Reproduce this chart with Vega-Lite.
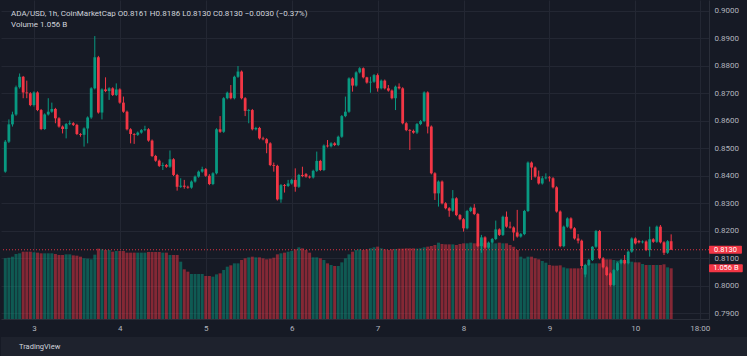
{
"$schema":"https://vega.github.io/schema/vega-lite/v6.json",
"background":"#161a25",
"padding":0,
"spacing":0,
"config":{"view":{"stroke":null},"scale":{"continuousPadding":0},"font":"Roboto","axis":{"labelFont":"Roboto"},"text":{"font":"Roboto"},"title":{"font":"Roboto","subtitleFont":"Roboto"}},
"vconcat":[
{
"width":708,"height":319,
"title":{"text":"ADA/USD, 1h, CoinMarketCap   O0.8161  H0.8186  L0.8130  C0.8130  −0.0030 (−0.37%)","subtitle":"Volume  1.056 B","anchor":"start","frame":"group","offset":-29,"fontSize":8,"fontWeight":"normal","color":"#d1d4dc","subtitleFontSize":8,"subtitleColor":"#d1d4dc","subtitlePadding":3,"dx":10},
"data":{"values":[
{"t":"2025-05-02T16:00Z","o":0.8414,"h":0.8529,"l":0.8410,"c":0.8523,"v":1.264},
{"t":"2025-05-02T17:00Z","o":0.8523,"h":0.8604,"l":0.8518,"c":0.8586,"v":1.277},
{"t":"2025-05-02T18:00Z","o":0.8586,"h":0.8632,"l":0.8578,"c":0.8622,"v":1.298},
{"t":"2025-05-02T19:00Z","o":0.8622,"h":0.8727,"l":0.8617,"c":0.8721,"v":1.354},
{"t":"2025-05-02T20:00Z","o":0.8721,"h":0.8771,"l":0.8716,"c":0.8759,"v":1.368},
{"t":"2025-05-02T21:00Z","o":0.8759,"h":0.8762,"l":0.8681,"c":0.8702,"v":1.402},
{"t":"2025-05-02T22:00Z","o":0.8702,"h":0.8745,"l":0.8681,"c":0.8699,"v":1.402},
{"t":"2025-05-02T23:00Z","o":0.8699,"h":0.8703,"l":0.8652,"c":0.8656,"v":1.402},
{"t":"2025-05-03T00:00Z","o":0.8656,"h":0.8706,"l":0.8651,"c":0.8702,"v":1.389},
{"t":"2025-05-03T01:00Z","o":0.8702,"h":0.8706,"l":0.8634,"c":0.8638,"v":1.382},
{"t":"2025-05-03T02:00Z","o":0.8638,"h":0.8642,"l":0.8565,"c":0.8569,"v":1.368},
{"t":"2025-05-03T03:00Z","o":0.8569,"h":0.8626,"l":0.8566,"c":0.8622,"v":1.368},
{"t":"2025-05-03T04:00Z","o":0.8622,"h":0.8681,"l":0.8618,"c":0.8632,"v":1.368},
{"t":"2025-05-03T05:00Z","o":0.8632,"h":0.8665,"l":0.8628,"c":0.8642,"v":1.368},
{"t":"2025-05-03T06:00Z","o":0.8642,"h":0.8646,"l":0.8590,"c":0.8608,"v":1.354},
{"t":"2025-05-03T07:00Z","o":0.8608,"h":0.8612,"l":0.8574,"c":0.8578,"v":1.333},
{"t":"2025-05-03T08:00Z","o":0.8578,"h":0.8582,"l":0.8553,"c":0.8569,"v":1.333},
{"t":"2025-05-03T09:00Z","o":0.8569,"h":0.8591,"l":0.8535,"c":0.8587,"v":1.347},
{"t":"2025-05-03T10:00Z","o":0.8587,"h":0.8600,"l":0.8583,"c":0.8590,"v":1.347},
{"t":"2025-05-03T11:00Z","o":0.8590,"h":0.8594,"l":0.8580,"c":0.8584,"v":1.326},
{"t":"2025-05-03T12:00Z","o":0.8584,"h":0.8588,"l":0.8547,"c":0.8551,"v":1.319},
{"t":"2025-05-03T13:00Z","o":0.8551,"h":0.8554,"l":0.8541,"c":0.8548,"v":1.298},
{"t":"2025-05-03T14:00Z","o":0.8548,"h":0.8575,"l":0.8505,"c":0.8571,"v":1.264},
{"t":"2025-05-03T15:00Z","o":0.8571,"h":0.8615,"l":0.8517,"c":0.8611,"v":1.257},
{"t":"2025-05-03T16:00Z","o":0.8611,"h":0.8721,"l":0.8606,"c":0.8717,"v":1.243},
{"t":"2025-05-03T17:00Z","o":0.8717,"h":0.8907,"l":0.8713,"c":0.8830,"v":1.340},
{"t":"2025-05-03T18:00Z","o":0.8830,"h":0.8835,"l":0.8625,"c":0.8629,"v":1.465},
{"t":"2025-05-03T19:00Z","o":0.8629,"h":0.8717,"l":0.8604,"c":0.8713,"v":1.451},
{"t":"2025-05-03T20:00Z","o":0.8713,"h":0.8757,"l":0.8703,"c":0.8707,"v":1.437},
{"t":"2025-05-03T21:00Z","o":0.8707,"h":0.8721,"l":0.8675,"c":0.8717,"v":1.437},
{"t":"2025-05-03T22:00Z","o":0.8717,"h":0.8721,"l":0.8689,"c":0.8693,"v":1.402},
{"t":"2025-05-03T23:00Z","o":0.8693,"h":0.8735,"l":0.8689,"c":0.8713,"v":1.416},
{"t":"2025-05-04T00:00Z","o":0.8713,"h":0.8717,"l":0.8661,"c":0.8665,"v":1.416},
{"t":"2025-05-04T01:00Z","o":0.8665,"h":0.8687,"l":0.8628,"c":0.8632,"v":1.416},
{"t":"2025-05-04T02:00Z","o":0.8632,"h":0.8636,"l":0.8564,"c":0.8568,"v":1.382},
{"t":"2025-05-04T03:00Z","o":0.8568,"h":0.8572,"l":0.8517,"c":0.8551,"v":1.382},
{"t":"2025-05-04T04:00Z","o":0.8551,"h":0.8554,"l":0.8515,"c":0.8548,"v":1.382},
{"t":"2025-05-04T05:00Z","o":0.8548,"h":0.8560,"l":0.8544,"c":0.8556,"v":1.382},
{"t":"2025-05-04T06:00Z","o":0.8556,"h":0.8569,"l":0.8552,"c":0.8565,"v":1.382},
{"t":"2025-05-04T07:00Z","o":0.8565,"h":0.8581,"l":0.8561,"c":0.8568,"v":1.382},
{"t":"2025-05-04T08:00Z","o":0.8568,"h":0.8572,"l":0.8523,"c":0.8527,"v":1.396},
{"t":"2025-05-04T09:00Z","o":0.8527,"h":0.8531,"l":0.8467,"c":0.8471,"v":1.396},
{"t":"2025-05-04T10:00Z","o":0.8471,"h":0.8475,"l":0.8450,"c":0.8454,"v":1.396},
{"t":"2025-05-04T11:00Z","o":0.8454,"h":0.8458,"l":0.8431,"c":0.8435,"v":1.396},
{"t":"2025-05-04T12:00Z","o":0.8435,"h":0.8447,"l":0.8420,"c":0.8438,"v":1.382},
{"t":"2025-05-04T13:00Z","o":0.8438,"h":0.8442,"l":0.8428,"c":0.8432,"v":1.382},
{"t":"2025-05-04T14:00Z","o":0.8432,"h":0.8491,"l":0.8428,"c":0.8459,"v":1.333},
{"t":"2025-05-04T15:00Z","o":0.8459,"h":0.8463,"l":0.8398,"c":0.8402,"v":1.333},
{"t":"2025-05-04T16:00Z","o":0.8402,"h":0.8406,"l":0.8345,"c":0.8359,"v":1.333},
{"t":"2025-05-04T17:00Z","o":0.8359,"h":0.8390,"l":0.8355,"c":0.8363,"v":1.194},
{"t":"2025-05-04T18:00Z","o":0.8363,"h":0.8384,"l":0.8352,"c":0.8359,"v":1.035},
{"t":"2025-05-04T19:00Z","o":0.8359,"h":0.8363,"l":0.8352,"c":0.8356,"v":0.986},
{"t":"2025-05-04T20:00Z","o":0.8356,"h":0.8382,"l":0.8352,"c":0.8378,"v":0.937},
{"t":"2025-05-04T21:00Z","o":0.8378,"h":0.8400,"l":0.8374,"c":0.8396,"v":0.937},
{"t":"2025-05-04T22:00Z","o":0.8396,"h":0.8418,"l":0.8392,"c":0.8414,"v":0.937},
{"t":"2025-05-04T23:00Z","o":0.8414,"h":0.8432,"l":0.8410,"c":0.8423,"v":0.937},
{"t":"2025-05-05T00:00Z","o":0.8423,"h":0.8427,"l":0.8395,"c":0.8399,"v":0.896},
{"t":"2025-05-05T01:00Z","o":0.8399,"h":0.8405,"l":0.8365,"c":0.8369,"v":0.896},
{"t":"2025-05-05T02:00Z","o":0.8369,"h":0.8412,"l":0.8365,"c":0.8408,"v":0.882},
{"t":"2025-05-05T03:00Z","o":0.8408,"h":0.8572,"l":0.8404,"c":0.8568,"v":0.930},
{"t":"2025-05-05T04:00Z","o":0.8568,"h":0.8616,"l":0.8555,"c":0.8559,"v":0.951},
{"t":"2025-05-05T05:00Z","o":0.8559,"h":0.8685,"l":0.8555,"c":0.8681,"v":1.021},
{"t":"2025-05-05T06:00Z","o":0.8681,"h":0.8705,"l":0.8677,"c":0.8701,"v":1.090},
{"t":"2025-05-05T07:00Z","o":0.8701,"h":0.8729,"l":0.8677,"c":0.8681,"v":1.118},
{"t":"2025-05-05T08:00Z","o":0.8681,"h":0.8763,"l":0.8677,"c":0.8759,"v":1.159},
{"t":"2025-05-05T09:00Z","o":0.8759,"h":0.8798,"l":0.8755,"c":0.8778,"v":1.159},
{"t":"2025-05-05T10:00Z","o":0.8778,"h":0.8782,"l":0.8677,"c":0.8681,"v":1.229},
{"t":"2025-05-05T11:00Z","o":0.8681,"h":0.8685,"l":0.8616,"c":0.8635,"v":1.264},
{"t":"2025-05-05T12:00Z","o":0.8635,"h":0.8642,"l":0.8590,"c":0.8638,"v":1.284},
{"t":"2025-05-05T13:00Z","o":0.8638,"h":0.8642,"l":0.8564,"c":0.8568,"v":1.298},
{"t":"2025-05-05T14:00Z","o":0.8568,"h":0.8577,"l":0.8564,"c":0.8573,"v":1.284},
{"t":"2025-05-05T15:00Z","o":0.8573,"h":0.8577,"l":0.8531,"c":0.8535,"v":1.284},
{"t":"2025-05-05T16:00Z","o":0.8535,"h":0.8541,"l":0.8528,"c":0.8532,"v":1.264},
{"t":"2025-05-05T17:00Z","o":0.8532,"h":0.8536,"l":0.8481,"c":0.8517,"v":1.243},
{"t":"2025-05-05T18:00Z","o":0.8517,"h":0.8521,"l":0.8434,"c":0.8438,"v":1.257},
{"t":"2025-05-05T19:00Z","o":0.8438,"h":0.8447,"l":0.8414,"c":0.8435,"v":1.277},
{"t":"2025-05-05T20:00Z","o":0.8435,"h":0.8439,"l":0.8309,"c":0.8313,"v":1.347},
{"t":"2025-05-05T21:00Z","o":0.8313,"h":0.8369,"l":0.8301,"c":0.8365,"v":1.368},
{"t":"2025-05-05T22:00Z","o":0.8365,"h":0.8369,"l":0.8338,"c":0.8362,"v":1.382},
{"t":"2025-05-05T23:00Z","o":0.8362,"h":0.8384,"l":0.8358,"c":0.8371,"v":1.402},
{"t":"2025-05-06T00:00Z","o":0.8371,"h":0.8388,"l":0.8367,"c":0.8384,"v":1.416},
{"t":"2025-05-06T01:00Z","o":0.8384,"h":0.8426,"l":0.8341,"c":0.8359,"v":1.451},
{"t":"2025-05-06T02:00Z","o":0.8359,"h":0.8406,"l":0.8355,"c":0.8402,"v":1.493},
{"t":"2025-05-06T03:00Z","o":0.8402,"h":0.8432,"l":0.8394,"c":0.8398,"v":1.472},
{"t":"2025-05-06T04:00Z","o":0.8405,"h":0.8409,"l":0.8392,"c":0.8396,"v":1.437},
{"t":"2025-05-06T05:00Z","o":0.8396,"h":0.8400,"l":0.8389,"c":0.8393,"v":1.382},
{"t":"2025-05-06T06:00Z","o":0.8393,"h":0.8421,"l":0.8389,"c":0.8417,"v":1.284},
{"t":"2025-05-06T07:00Z","o":0.8417,"h":0.8487,"l":0.8413,"c":0.8453,"v":1.284},
{"t":"2025-05-06T08:00Z","o":0.8453,"h":0.8457,"l":0.8416,"c":0.8420,"v":1.264},
{"t":"2025-05-06T09:00Z","o":0.8420,"h":0.8513,"l":0.8416,"c":0.8509,"v":1.229},
{"t":"2025-05-06T10:00Z","o":0.8509,"h":0.8529,"l":0.8502,"c":0.8506,"v":1.159},
{"t":"2025-05-06T11:00Z","o":0.8506,"h":0.8521,"l":0.8502,"c":0.8517,"v":1.125},
{"t":"2025-05-06T12:00Z","o":0.8517,"h":0.8521,"l":0.8507,"c":0.8511,"v":1.104},
{"t":"2025-05-06T13:00Z","o":0.8511,"h":0.8545,"l":0.8507,"c":0.8541,"v":1.104},
{"t":"2025-05-06T14:00Z","o":0.8541,"h":0.8620,"l":0.8537,"c":0.8616,"v":1.180},
{"t":"2025-05-06T15:00Z","o":0.8616,"h":0.8687,"l":0.8612,"c":0.8632,"v":1.264},
{"t":"2025-05-06T16:00Z","o":0.8632,"h":0.8757,"l":0.8628,"c":0.8753,"v":1.347},
{"t":"2025-05-06T17:00Z","o":0.8753,"h":0.8757,"l":0.8705,"c":0.8727,"v":1.402},
{"t":"2025-05-06T18:00Z","o":0.8727,"h":0.8779,"l":0.8723,"c":0.8775,"v":1.437},
{"t":"2025-05-06T19:00Z","o":0.8775,"h":0.8794,"l":0.8771,"c":0.8790,"v":1.451},
{"t":"2025-05-06T20:00Z","o":0.8790,"h":0.8793,"l":0.8753,"c":0.8757,"v":1.437},
{"t":"2025-05-06T21:00Z","o":0.8757,"h":0.8759,"l":0.8734,"c":0.8738,"v":1.451},
{"t":"2025-05-06T22:00Z","o":0.8738,"h":0.8759,"l":0.8701,"c":0.8741,"v":1.472},
{"t":"2025-05-06T23:00Z","o":0.8741,"h":0.8769,"l":0.8737,"c":0.8765,"v":1.493},
{"t":"2025-05-07T00:00Z","o":0.8765,"h":0.8771,"l":0.8705,"c":0.8717,"v":1.507},
{"t":"2025-05-07T01:00Z","o":0.8717,"h":0.8749,"l":0.8713,"c":0.8745,"v":1.472},
{"t":"2025-05-07T02:00Z","o":0.8745,"h":0.8749,"l":0.8713,"c":0.8717,"v":1.451},
{"t":"2025-05-07T03:00Z","o":0.8717,"h":0.8729,"l":0.8705,"c":0.8709,"v":1.437},
{"t":"2025-05-07T04:00Z","o":0.8709,"h":0.8713,"l":0.8677,"c":0.8681,"v":1.451},
{"t":"2025-05-07T05:00Z","o":0.8681,"h":0.8727,"l":0.8638,"c":0.8723,"v":1.458},
{"t":"2025-05-07T06:00Z","o":0.8723,"h":0.8735,"l":0.8713,"c":0.8717,"v":1.465},
{"t":"2025-05-07T07:00Z","o":0.8717,"h":0.8721,"l":0.8586,"c":0.8590,"v":1.465},
{"t":"2025-05-07T08:00Z","o":0.8590,"h":0.8594,"l":0.8561,"c":0.8565,"v":1.472},
{"t":"2025-05-07T09:00Z","o":0.8565,"h":0.8569,"l":0.8493,"c":0.8562,"v":1.472},
{"t":"2025-05-07T10:00Z","o":0.8562,"h":0.8567,"l":0.8552,"c":0.8556,"v":1.472},
{"t":"2025-05-07T11:00Z","o":0.8556,"h":0.8591,"l":0.8551,"c":0.8587,"v":1.465},
{"t":"2025-05-07T12:00Z","o":0.8587,"h":0.8602,"l":0.8583,"c":0.8598,"v":1.472},
{"t":"2025-05-07T13:00Z","o":0.8598,"h":0.8706,"l":0.8594,"c":0.8702,"v":1.493},
{"t":"2025-05-07T14:00Z","o":0.8702,"h":0.8706,"l":0.8553,"c":0.8578,"v":1.507},
{"t":"2025-05-07T15:00Z","o":0.8578,"h":0.8582,"l":0.8404,"c":0.8408,"v":1.520},
{"t":"2025-05-07T16:00Z","o":0.8408,"h":0.8412,"l":0.8311,"c":0.8335,"v":1.541},
{"t":"2025-05-07T17:00Z","o":0.8335,"h":0.8382,"l":0.8287,"c":0.8378,"v":1.590},
{"t":"2025-05-07T18:00Z","o":0.8378,"h":0.8382,"l":0.8295,"c":0.8299,"v":1.562},
{"t":"2025-05-07T19:00Z","o":0.8299,"h":0.8303,"l":0.8277,"c":0.8281,"v":1.555},
{"t":"2025-05-07T20:00Z","o":0.8281,"h":0.8285,"l":0.8250,"c":0.8272,"v":1.555},
{"t":"2025-05-07T21:00Z","o":0.8272,"h":0.8347,"l":0.8268,"c":0.8317,"v":1.555},
{"t":"2025-05-07T22:00Z","o":0.8317,"h":0.8321,"l":0.8252,"c":0.8256,"v":1.541},
{"t":"2025-05-07T23:00Z","o":0.8256,"h":0.8260,"l":0.8237,"c":0.8241,"v":1.562},
{"t":"2025-05-08T00:00Z","o":0.8241,"h":0.8245,"l":0.8196,"c":0.8208,"v":1.576},
{"t":"2025-05-08T01:00Z","o":0.8208,"h":0.8275,"l":0.8204,"c":0.8271,"v":1.576},
{"t":"2025-05-08T02:00Z","o":0.8271,"h":0.8287,"l":0.8267,"c":0.8283,"v":1.590},
{"t":"2025-05-08T03:00Z","o":0.8283,"h":0.8296,"l":0.8256,"c":0.8260,"v":1.576},
{"t":"2025-05-08T04:00Z","o":0.8260,"h":0.8264,"l":0.8139,"c":0.8143,"v":1.576},
{"t":"2025-05-08T05:00Z","o":0.8143,"h":0.8184,"l":0.8119,"c":0.8175,"v":1.576},
{"t":"2025-05-08T06:00Z","o":0.8175,"h":0.8179,"l":0.8134,"c":0.8138,"v":1.590},
{"t":"2025-05-08T07:00Z","o":0.8138,"h":0.8160,"l":0.8134,"c":0.8156,"v":1.576},
{"t":"2025-05-08T08:00Z","o":0.8156,"h":0.8173,"l":0.8152,"c":0.8169,"v":1.576},
{"t":"2025-05-08T09:00Z","o":0.8169,"h":0.8236,"l":0.8165,"c":0.8204,"v":1.576},
{"t":"2025-05-08T10:00Z","o":0.8204,"h":0.8208,"l":0.8180,"c":0.8184,"v":1.590},
{"t":"2025-05-08T11:00Z","o":0.8184,"h":0.8254,"l":0.8180,"c":0.8250,"v":1.576},
{"t":"2025-05-08T12:00Z","o":0.8250,"h":0.8269,"l":0.8210,"c":0.8214,"v":1.576},
{"t":"2025-05-08T13:00Z","o":0.8214,"h":0.8232,"l":0.8207,"c":0.8211,"v":1.541},
{"t":"2025-05-08T14:00Z","o":0.8211,"h":0.8215,"l":0.8163,"c":0.8193,"v":1.507},
{"t":"2025-05-08T15:00Z","o":0.8193,"h":0.8275,"l":0.8174,"c":0.8178,"v":1.437},
{"t":"2025-05-08T16:00Z","o":0.8178,"h":0.8191,"l":0.8174,"c":0.8187,"v":1.298},
{"t":"2025-05-08T17:00Z","o":0.8187,"h":0.8275,"l":0.8183,"c":0.8271,"v":1.257},
{"t":"2025-05-08T18:00Z","o":0.8271,"h":0.8451,"l":0.8267,"c":0.8447,"v":1.298},
{"t":"2025-05-08T19:00Z","o":0.8447,"h":0.8451,"l":0.8384,"c":0.8429,"v":1.298},
{"t":"2025-05-08T20:00Z","o":0.8429,"h":0.8433,"l":0.8392,"c":0.8396,"v":1.264},
{"t":"2025-05-08T21:00Z","o":0.8396,"h":0.8418,"l":0.8367,"c":0.8371,"v":1.243},
{"t":"2025-05-08T22:00Z","o":0.8371,"h":0.8398,"l":0.8367,"c":0.8390,"v":1.208},
{"t":"2025-05-08T23:00Z","o":0.8390,"h":0.8408,"l":0.8386,"c":0.8393,"v":1.173},
{"t":"2025-05-09T00:00Z","o":0.8393,"h":0.8398,"l":0.8378,"c":0.8390,"v":1.125},
{"t":"2025-05-09T01:00Z","o":0.8390,"h":0.8394,"l":0.8353,"c":0.8357,"v":1.111},
{"t":"2025-05-09T02:00Z","o":0.8357,"h":0.8361,"l":0.8265,"c":0.8269,"v":1.111},
{"t":"2025-05-09T03:00Z","o":0.8269,"h":0.8273,"l":0.8139,"c":0.8143,"v":1.118},
{"t":"2025-05-09T04:00Z","o":0.8143,"h":0.8218,"l":0.8139,"c":0.8214,"v":1.076},
{"t":"2025-05-09T05:00Z","o":0.8214,"h":0.8248,"l":0.8210,"c":0.8244,"v":1.055},
{"t":"2025-05-09T06:00Z","o":0.8244,"h":0.8248,"l":0.8204,"c":0.8208,"v":1.055},
{"t":"2025-05-09T07:00Z","o":0.8208,"h":0.8212,"l":0.8167,"c":0.8171,"v":1.055},
{"t":"2025-05-09T08:00Z","o":0.8171,"h":0.8187,"l":0.8153,"c":0.8163,"v":1.055},
{"t":"2025-05-09T09:00Z","o":0.8163,"h":0.8167,"l":0.8060,"c":0.8071,"v":1.055},
{"t":"2025-05-09T10:00Z","o":0.8040,"h":0.8079,"l":0.8030,"c":0.8075,"v":1.125},
{"t":"2025-05-09T11:00Z","o":0.8075,"h":0.8097,"l":0.8071,"c":0.8093,"v":1.159},
{"t":"2025-05-09T12:00Z","o":0.8093,"h":0.8143,"l":0.8089,"c":0.8141,"v":1.159},
{"t":"2025-05-09T13:00Z","o":0.8141,"h":0.8202,"l":0.8137,"c":0.8198,"v":1.159},
{"t":"2025-05-09T14:00Z","o":0.8198,"h":0.8202,"l":0.8095,"c":0.8099,"v":1.159},
{"t":"2025-05-09T15:00Z","o":0.8099,"h":0.8103,"l":0.8062,"c":0.8066,"v":1.229},
{"t":"2025-05-09T16:00Z","o":0.8066,"h":0.8070,"l":0.8034,"c":0.8038,"v":1.243},
{"t":"2025-05-09T17:00Z","o":0.8044,"h":0.8048,"l":0.7996,"c":0.8002,"v":1.243},
{"t":"2025-05-09T18:00Z","o":0.8002,"h":0.8060,"l":0.7998,"c":0.8056,"v":1.229},
{"t":"2025-05-09T19:00Z","o":0.8056,"h":0.8085,"l":0.8052,"c":0.8081,"v":1.215},
{"t":"2025-05-09T20:00Z","o":0.8081,"h":0.8097,"l":0.8077,"c":0.8093,"v":1.208},
{"t":"2025-05-09T21:00Z","o":0.8093,"h":0.8111,"l":0.8077,"c":0.8081,"v":1.173},
{"t":"2025-05-09T22:00Z","o":0.8081,"h":0.8127,"l":0.8077,"c":0.8123,"v":1.194},
{"t":"2025-05-09T23:00Z","o":0.8123,"h":0.8175,"l":0.8119,"c":0.8171,"v":1.194},
{"t":"2025-05-10T00:00Z","o":0.8171,"h":0.8175,"l":0.8149,"c":0.8153,"v":1.180},
{"t":"2025-05-10T01:00Z","o":0.8162,"h":0.8166,"l":0.8153,"c":0.8157,"v":1.180},
{"t":"2025-05-10T02:00Z","o":0.8157,"h":0.8164,"l":0.8153,"c":0.8160,"v":1.146},
{"t":"2025-05-10T03:00Z","o":0.8160,"h":0.8164,"l":0.8125,"c":0.8129,"v":1.125},
{"t":"2025-05-10T04:00Z","o":0.8129,"h":0.8214,"l":0.8105,"c":0.8168,"v":1.125},
{"t":"2025-05-10T05:00Z","o":0.8168,"h":0.8172,"l":0.8155,"c":0.8159,"v":1.125},
{"t":"2025-05-10T06:00Z","o":0.8159,"h":0.8218,"l":0.8155,"c":0.8214,"v":1.125},
{"t":"2025-05-10T07:00Z","o":0.8214,"h":0.8220,"l":0.8153,"c":0.8157,"v":1.125},
{"t":"2025-05-10T08:00Z","o":0.8157,"h":0.8161,"l":0.8111,"c":0.8119,"v":1.139},
{"t":"2025-05-10T09:00Z","o":0.8119,"h":0.8165,"l":0.8115,"c":0.8161,"v":1.076},
{"t":"2025-05-10T10:00Z","o":0.8161,"h":0.8186,"l":0.8130,"c":0.8130,"v":1.056}
]},
"layer":[
{"layer":[
{"mark":{"type":"bar","size":3},
"encoding":{
"x":{"field":"t","type":"temporal","scale":{"type":"utc","domain":[{"year":2025,"month":5,"date":2,"hours":14,"minutes":48,"utc":true},{"year":2025,"month":5,"date":10,"hours":20,"minutes":34,"utc":true}]},
"axis":{"values":[{"year":2025,"month":5,"date":3,"utc":true},{"year":2025,"month":5,"date":4,"utc":true},{"year":2025,"month":5,"date":5,"utc":true},{"year":2025,"month":5,"date":6,"utc":true},{"year":2025,"month":5,"date":7,"utc":true},{"year":2025,"month":5,"date":8,"utc":true},{"year":2025,"month":5,"date":9,"utc":true},{"year":2025,"month":5,"date":10,"utc":true},{"year":2025,"month":5,"date":10,"hours":18,"utc":true}],
"labelExpr":"utchours(datum.value) == 0 ? utcFormat(datum.value, '%-d') : utcFormat(datum.value, '%H:%M')",
"title":null,"ticks":false,"labelPadding":5,"labelFontSize":8,"labelColor":"#b2b5be","grid":true,"gridColor":"#232733","domain":true,"domainColor":"#2a2e39","minExtent":18,"maxExtent":18,"labelFlush":false,"labelOverlap":false}},
"y":{"field":"v","type":"quantitative","scale":{"domain":[0,6.644]},"axis":null},
"color":{"condition":{"test":"datum.c >= datum.o","value":"rgba(8,153,129,0.5)"},"value":"rgba(242,54,69,0.5)"}}},
{"data":{"values":[{"vol":1.056,"tag":"1.056 B"}]},
"mark":{"type":"bar","orient":"horizontal","size":8,"color":"#f23645","cornerRadius":1},
"encoding":{
"x":{"datum":{"year":2025,"month":5,"date":10,"hours":20,"minutes":34,"utc":true},"type":"temporal","scale":{"type":"utc","domain":[{"year":2025,"month":5,"date":2,"hours":14,"minutes":48,"utc":true},{"year":2025,"month":5,"date":10,"hours":20,"minutes":34,"utc":true}]}},
"x2":{"datum":{"year":2025,"month":5,"date":11,"hours":6,"minutes":0,"utc":true}},
"y":{"field":"vol","type":"quantitative","scale":{"domain":[0,6.644]},"axis":null}}},
{"data":{"values":[{"vol":1.056,"tag":"1.056 B"}]},
"mark":{"type":"text","color":"#ffffff","fontSize":7.5,"align":"center","baseline":"middle"},
"encoding":{
"x":{"datum":{"year":2025,"month":5,"date":11,"hours":1,"minutes":17,"utc":true},"type":"temporal","scale":{"type":"utc","domain":[{"year":2025,"month":5,"date":2,"hours":14,"minutes":48,"utc":true},{"year":2025,"month":5,"date":10,"hours":20,"minutes":34,"utc":true}]}},
"y":{"field":"vol","type":"quantitative","scale":{"domain":[0,6.644]},"axis":null},
"text":{"field":"tag"}}}
]},
{"layer":[
{"mark":{"type":"rule","strokeWidth":1},
"encoding":{
"x":{"field":"t","type":"temporal","scale":{"type":"utc","domain":[{"year":2025,"month":5,"date":2,"hours":14,"minutes":48,"utc":true},{"year":2025,"month":5,"date":10,"hours":20,"minutes":34,"utc":true}]}},
"y":{"field":"l","type":"quantitative","scale":{"domain":[0.78782,0.90382],"nice":false,"zero":false},
"axis":{"orient":"right","values":[0.79,0.8,0.81,0.82,0.83,0.84,0.85,0.86,0.87,0.88,0.89,0.9],"format":".4f","title":null,"ticks":false,"labelPadding":5,"labelFontSize":8,"labelColor":"#b2b5be","grid":true,"gridColor":"#232733","domain":true,"domainColor":"#2a2e39","labelFlush":false,"labelOverlap":false}},
"y2":{"field":"h"},
"color":{"condition":{"test":"datum.c >= datum.o","value":"#089981"},"value":"#f23645"}}},
{"mark":{"type":"bar","size":2.8},
"encoding":{
"x":{"field":"t","type":"temporal","scale":{"type":"utc","domain":[{"year":2025,"month":5,"date":2,"hours":14,"minutes":48,"utc":true},{"year":2025,"month":5,"date":10,"hours":20,"minutes":34,"utc":true}]}},
"y":{"field":"o","type":"quantitative","scale":{"domain":[0.78782,0.90382],"nice":false,"zero":false},
"axis":{"orient":"right","values":[0.79,0.8,0.81,0.82,0.83,0.84,0.85,0.86,0.87,0.88,0.89,0.9],"format":".4f","title":null,"ticks":false,"labelPadding":5,"labelFontSize":8,"labelColor":"#b2b5be","grid":true,"gridColor":"#232733","domain":true,"domainColor":"#2a2e39","labelFlush":false,"labelOverlap":false}},
"y2":{"field":"c"},
"color":{"condition":{"test":"datum.c >= datum.o","value":"#089981"},"value":"#f23645"}}},
{"data":{"values":[{"price":0.813,"tag":"0.8130"}]},
"mark":{"type":"rule","color":"#f23645","strokeDash":[1,2],"strokeWidth":1,"opacity":0.9},
"encoding":{"y":{"field":"price","type":"quantitative","scale":{"domain":[0.78782,0.90382],"nice":false,"zero":false},
"axis":{"orient":"right","values":[0.79,0.8,0.81,0.82,0.83,0.84,0.85,0.86,0.87,0.88,0.89,0.9],"format":".4f","title":null,"ticks":false,"labelPadding":5,"labelFontSize":8,"labelColor":"#b2b5be","grid":true,"gridColor":"#232733","domain":true,"domainColor":"#2a2e39","labelFlush":false,"labelOverlap":false}}}},
{"data":{"values":[{"price":0.813,"tag":"0.8130"}]},
"mark":{"type":"bar","orient":"horizontal","size":8,"color":"#f23645","cornerRadius":1},
"encoding":{
"x":{"datum":{"year":2025,"month":5,"date":10,"hours":20,"minutes":34,"utc":true},"type":"temporal","scale":{"type":"utc","domain":[{"year":2025,"month":5,"date":2,"hours":14,"minutes":48,"utc":true},{"year":2025,"month":5,"date":10,"hours":20,"minutes":34,"utc":true}]}},
"x2":{"datum":{"year":2025,"month":5,"date":11,"hours":5,"minutes":46,"utc":true}},
"y":{"field":"price","type":"quantitative","scale":{"domain":[0.78782,0.90382],"nice":false,"zero":false},
"axis":{"orient":"right","values":[0.79,0.8,0.81,0.82,0.83,0.84,0.85,0.86,0.87,0.88,0.89,0.9],"format":".4f","title":null,"ticks":false,"labelPadding":5,"labelFontSize":8,"labelColor":"#b2b5be","grid":true,"gridColor":"#232733","domain":true,"domainColor":"#2a2e39","labelFlush":false,"labelOverlap":false}}}},
{"data":{"values":[{"price":0.813,"tag":"0.8130"}]},
"mark":{"type":"text","color":"#ffffff","fontSize":7.5,"align":"center","baseline":"middle"},
"encoding":{
"x":{"datum":{"year":2025,"month":5,"date":11,"hours":1,"minutes":10,"utc":true},"type":"temporal","scale":{"type":"utc","domain":[{"year":2025,"month":5,"date":2,"hours":14,"minutes":48,"utc":true},{"year":2025,"month":5,"date":10,"hours":20,"minutes":34,"utc":true}]}},
"y":{"field":"price","type":"quantitative","scale":{"domain":[0.78782,0.90382],"nice":false,"zero":false},
"axis":{"orient":"right","values":[0.79,0.8,0.81,0.82,0.83,0.84,0.85,0.86,0.87,0.88,0.89,0.9],"format":".4f","title":null,"ticks":false,"labelPadding":5,"labelFontSize":8,"labelColor":"#b2b5be","grid":true,"gridColor":"#232733","domain":true,"domainColor":"#2a2e39","labelFlush":false,"labelOverlap":false}},
"text":{"field":"tag"}}}
]}
],
"resolve":{"scale":{"y":"independent"}}
},
{
"width":747,"height":19,
"view":{"fill":"#1e222d","stroke":null},
"data":{"values":[{"brand":"TradingView"}]},
"mark":{"type":"text","align":"left","baseline":"middle","dx":18,"fontSize":7.5,"color":"#d1d4dc"},
"encoding":{
"x":{"field":"brand","type":"nominal","axis":null,"scale":{"type":"point","padding":0,"align":0}},
"text":{"field":"brand"}}
}
]
}
